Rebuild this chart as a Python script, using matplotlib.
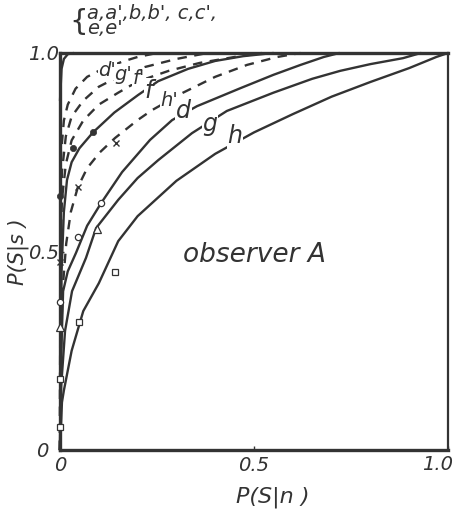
import numpy as np
import matplotlib.pyplot as plt

# ROC curves, observer A; x = P(S|n), y = P(S|s)
# solid curves
f_x = [0, 0.002, 0.004, 0.01, 0.018, 0.03, 0.05, 0.085, 0.14, 0.201, 0.253, 0.33, 0.40, 0.472, 0.55]
f_y = [0, 0.25, 0.45, 0.60, 0.68, 0.725, 0.76, 0.80, 0.85, 0.894, 0.929, 0.96, 0.98, 0.992, 1.0]

d_x = [0, 0.002, 0.008, 0.02, 0.041, 0.07, 0.106, 0.16, 0.232, 0.289, 0.353, 0.464, 0.55, 0.62, 0.68, 0.72]
d_y = [0, 0.20, 0.40, 0.45, 0.496, 0.565, 0.622, 0.70, 0.781, 0.831, 0.866, 0.911, 0.945, 0.97, 0.99, 1.0]

g_x = [0, 0.003, 0.013, 0.031, 0.067, 0.093, 0.15, 0.20, 0.253, 0.34, 0.43, 0.55, 0.65, 0.722, 0.80, 0.884, 0.93]
g_y = [0, 0.16, 0.30, 0.40, 0.484, 0.559, 0.63, 0.685, 0.73, 0.798, 0.854, 0.90, 0.935, 0.955, 0.972, 0.987, 1.0]

h_x = [0, 0.005, 0.01, 0.03, 0.06, 0.10, 0.15, 0.20, 0.30, 0.40, 0.50, 0.60, 0.70, 0.80, 0.90, 0.97, 1.0]
h_y = [0, 0.12, 0.15, 0.25, 0.35, 0.42, 0.526, 0.589, 0.678, 0.746, 0.80, 0.846, 0.89, 0.927, 0.962, 0.99, 1.0]

# dashed curves
dp_x = [0, 0.001, 0.003, 0.01, 0.02, 0.04, 0.07, 0.10, 0.16, 0.20, 0.25]
dp_y = [0, 0.60, 0.75, 0.83, 0.87, 0.91, 0.94, 0.955, 0.978, 0.99, 1.0]

gp_x = [0, 0.001, 0.005, 0.015, 0.03, 0.06, 0.10, 0.16, 0.22, 0.30, 0.38]
gp_y = [0, 0.55, 0.70, 0.79, 0.84, 0.88, 0.915, 0.945, 0.965, 0.985, 1.0]

fp_x = [0, 0.001, 0.005, 0.015, 0.03, 0.06, 0.10, 0.15, 0.20, 0.28, 0.36, 0.45, 0.52]
fp_y = [0, 0.50, 0.63, 0.72, 0.78, 0.83, 0.87, 0.90, 0.928, 0.955, 0.975, 0.99, 1.0]

hp_x = [0, 0.003, 0.008, 0.016, 0.028, 0.046, 0.07, 0.103, 0.142, 0.20, 0.237, 0.317, 0.40, 0.482, 0.56, 0.62]
hp_y = [0, 0.30, 0.42, 0.52, 0.60, 0.662, 0.71, 0.75, 0.786, 0.831, 0.856, 0.90, 0.94, 0.97, 0.99, 1.0]

# a,a',b,b',c,c',e,e' hug the corner
ce_x = [0, 0.004, 0.01, 0.02, 0.035]
ce_y = [0.88, 0.96, 0.985, 0.997, 1.0]

# data points
circ_x = [0, 0.046, 0.106]
circ_y = [0.373, 0.537, 0.622]
tri_x = [0, 0.095]
tri_y = [0.31, 0.557]
sq_x = [0, 0, 0.049, 0.142]
sq_y = [0.058, 0.18, 0.322, 0.448]
cross_x = [0, 0.046, 0.144]
cross_y = [0.473, 0.662, 0.773]
dot_x = [0, 0.034, 0.085]
dot_y = [0.64, 0.76, 0.80]

# curve labels: text, x, y
lab_txt = ["d'", "g'", "f'", "f", "h'", "d", "g", "h"]
lab_x = [0.122, 0.163, 0.203, 0.228, 0.282, 0.318, 0.387, 0.451]
lab_y = [0.957, 0.947, 0.937, 0.904, 0.88, 0.853, 0.822, 0.79]

col = '#333333'
plt.rcParams['font.family'] = 'DejaVu Sans'

fig = plt.figure(figsize=(4.54, 5.19), dpi=100)
ax = fig.add_axes([60/454, 69/519, 388/454, 397/519])

lw = 1.7
for xs, ys in [(f_x, f_y), (d_x, d_y), (g_x, g_y), (h_x, h_y), (ce_x, ce_y)]:
    ax.plot(xs, ys, color=col, lw=lw, solid_capstyle='round', clip_on=False)
for xs, ys in [(dp_x, dp_y), (gp_x, gp_y), (fp_x, fp_y), (hp_x, hp_y)]:
    ax.plot(xs, ys, color=col, lw=lw, dashes=(4, 3.2), clip_on=False)

mk = dict(color=col, ls='none', clip_on=False, zorder=5)
ax.plot(circ_x, circ_y, marker='o', ms=4.5, mfc='white', mew=0.9, **mk)
ax.plot(tri_x, tri_y, marker='^', ms=6, mfc='white', mew=0.9, **mk)
ax.plot(sq_x, sq_y, marker='s', ms=4.5, mfc='white', mew=0.9, **mk)
ax.plot(cross_x, cross_y, marker='x', ms=4.5, mew=1.0, **mk)
ax.plot(dot_x, dot_y, marker='o', ms=4.5, mfc=col, mew=0.5, **mk)

for t, x, y in zip(lab_txt, lab_x, lab_y):
    ax.text(x, y, t, fontsize=17 if "'" not in t else 14, style='italic',
            color=col, ha='center', va='center', zorder=4,
            bbox=dict(fc='white', ec='none', pad=0.5))

ax.text(0.5, 0.49, 'observer A', fontsize=19, style='italic', color=col,
        ha='center', va='center')

ax.text(0.048, 1.077, '{', fontsize=21, color=col, ha='center', va='center',
        clip_on=False)
ax.text(0.07, 1.099, "a,a',b,b', c,c',", fontsize=14, style='italic', color=col,
        ha='left', va='center', clip_on=False)
ax.text(0.07, 1.061, "e,e'", fontsize=14, style='italic', color=col,
        ha='left', va='center', clip_on=False)

ax.set_xlim(0, 1)
ax.set_ylim(0, 1)
ax.set_xticks([0, 0.5, 1.0])
ax.set_xticklabels(['0', '0.5', ''])
ax.set_yticks([0, 0.5, 1.0])
ax.set_yticklabels(['', '0.5', '1.0'])
ax.tick_params(direction='in', length=3, width=1, colors=col, labelsize=14)
ax.tick_params(axis='y', pad=1)
ax.tick_params(axis='x', pad=4)
for lbl in ax.get_xticklabels() + ax.get_yticklabels():
    lbl.set_style('italic')
# corner and right-hand tick labels placed by hand
ax.text(0.972, -0.012, '1.0', fontsize=14, style='italic', color=col,
        ha='center', va='top', clip_on=False)
ax.text(-0.045, -0.004, '0', fontsize=14, style='italic', color=col,
        ha='center', va='center', clip_on=False)

for side in ['left', 'top', 'bottom']:
    ax.spines[side].set_linewidth(2.4)
ax.spines['right'].set_linewidth(1.6)
for s in ax.spines.values():
    s.set_color(col)

ax.set_xlabel('P(S|n )', fontsize=16, style='italic', color=col)
ax.xaxis.set_label_coords(0.549, -0.093)
ax.set_ylabel('P(S|s )', fontsize=15, style='italic', color=col)
ax.yaxis.set_label_coords(-0.08, 0.5)

fig.savefig('out.png', dpi=100)
